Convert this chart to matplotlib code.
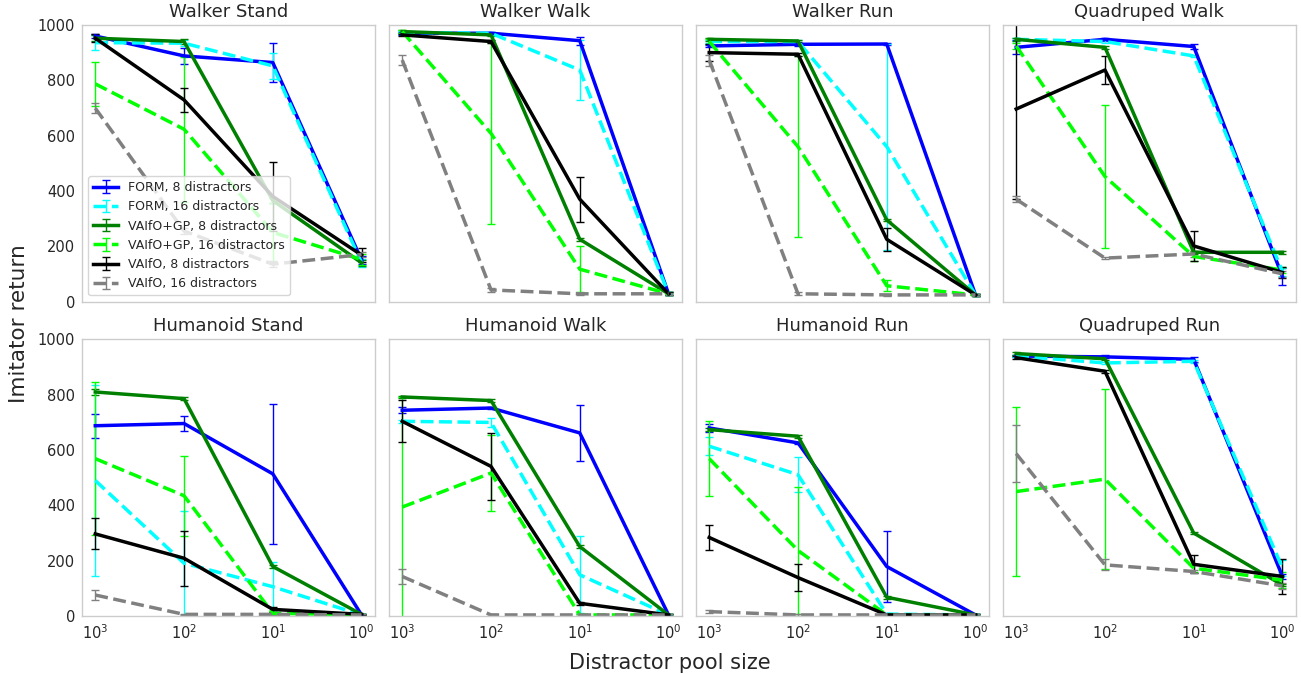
import matplotlib
matplotlib.use("Agg")
import matplotlib.pyplot as plt
import numpy as np

plt.rcParams['font.family'] = ['DejaVu Sans']
plt.rcParams['text.color'] = '.15'
plt.rcParams['axes.labelcolor'] = '.15'
plt.rcParams['xtick.color'] = '.15'
plt.rcParams['ytick.color'] = '.15'

tasks = ['Walker Stand', 'Walker Walk', 'Walker Run', 'Quadruped Walk',
         'Humanoid Stand', 'Humanoid Walk', 'Humanoid Run', 'Quadruped Run']
pool_sizes = [1000, 100, 10, 1]

labels = ['FORM, 8 distractors', 'FORM, 16 distractors',
          'VAIfO+GP, 8 distractors', 'VAIfO+GP, 16 distractors',
          'VAIfO, 8 distractors', 'VAIfO, 16 distractors']
colors = ['blue', 'cyan', 'green', 'lime', 'black', 'gray']
styles = ['-', '--', '-', '--', '-', '--']

# one row per task, one value per pool size
form8_mean = [[960, 888, 864, 150], [970, 970, 943, 28], [924, 930, 931, 24], [919, 948, 922, 90],
              [688, 696, 514, 4], [744, 752, 662, 4], [680, 626, 179, 4], [940, 937, 928, 143]]
form8_err = [[8, 30, 70, 15], [5, 5, 15, 5], [5, 5, 5, 5], [25, 5, 10, 30],
             [43, 26, 252, 3], [10, 5, 101, 3], [14, 5, 130, 3], [5, 5, 10, 10]]

form16_mean = [[936, 934, 852, 140], [973, 970, 837, 28], [940, 940, 560, 24], [948, 940, 888, 108],
               [490, 191, 106, 4], [704, 700, 149, 4], [614, 511, 7, 4], [940, 915, 921, 173]]
form16_err = [[28, 10, 46, 15], [5, 5, 108, 5], [5, 5, 372, 5], [5, 5, 5, 15],
              [347, 190, 90, 3], [5, 15, 139, 3], [33, 63, 3, 3], [5, 5, 5, 30]]

vgp8_mean = [[952, 940, 365, 140], [976, 964, 225, 28], [948, 942, 295, 24], [948, 919, 178, 178],
             [810, 786, 179, 6], [792, 779, 251, 4], [674, 650, 68, 4], [949, 930, 300, 112]]
vgp8_err = [[10, 10, 10, 10], [5, 5, 5, 5], [5, 5, 5, 5], [5, 5, 5, 5],
            [10, 5, 5, 3], [5, 5, 5, 3], [5, 5, 5, 3], [5, 5, 5, 5]]

vgp16_mean = [[787, 623, 250, 152], [976, 608, 117, 28], [940, 560, 57, 24], [924, 452, 163, 114],
              [569, 435, 10, 4], [394, 517, 4, 4], [569, 237, 4, 4], [450, 495, 173, 130]]
vgp16_err = [[80, 262, 108, 20], [5, 328, 84, 5], [10, 327, 20, 5], [10, 260, 15, 10],
             [277, 144, 5, 3], [397, 139, 3, 3], [135, 230, 3, 3], [307, 325, 15, 30]]

vaifo8_mean = [[952, 729, 380, 168], [964, 940, 370, 28], [900, 894, 225, 24], [696, 837, 201, 105],
               [297, 209, 24, 6], [704, 541, 46, 4], [284, 139, 4, 4], [934, 885, 187, 143]]
vaifo8_err = [[15, 43, 125, 25], [5, 5, 81, 5], [30, 5, 42, 5], [326, 50, 55, 20],
              [56, 100, 10, 3], [76, 121, 5, 3], [44, 48, 3, 3], [5, 5, 33, 65]]

vaifo16_mean = [[699, 255, 135, 170], [873, 42, 28, 28], [873, 28, 24, 24], [370, 157, 172, 100],
                [76, 6, 6, 4], [143, 4, 4, 4], [16, 4, 4, 4], [587, 185, 161, 109]]
vaifo16_err = [[19, 10, 10, 10], [19, 8, 3, 3], [20, 5, 3, 3], [10, 5, 10, 10],
               [18, 3, 3, 3], [27, 3, 3, 3], [5, 3, 3, 3], [104, 20, 5, 10]]

means = [form8_mean, form16_mean, vgp8_mean, vgp16_mean, vaifo8_mean, vaifo16_mean]
errs = [form8_err, form16_err, vgp8_err, vgp16_err, vaifo8_err, vaifo16_err]

fig, axes = plt.subplots(2, 4, figsize=(13.01, 6.74), dpi=100, sharex=True, sharey=True)
fig.subplots_adjust(left=0.063, right=0.996, top=0.963, bottom=0.086, wspace=0.048, hspace=0.137)

for t, ax in enumerate(axes.flat):
    for s in range(len(labels)):
        ax.errorbar(pool_sizes, means[s][t], yerr=errs[s][t], color=colors[s],
                    linestyle=styles[s], linewidth=2.5, elinewidth=1.0, capsize=3,
                    label=labels[s])
    ax.set_title(tasks[t], fontsize=13)
    ax.set_xscale('log')
    ax.set_ylim(0, 1000)
    ax.set_yticks([0, 200, 400, 600, 800, 1000])
    ax.set_xticks(pool_sizes)
    ax.tick_params(length=0, which='both', labelsize=10.5, pad=5)
    ax.minorticks_off()
    for sp in ax.spines.values():
        sp.set_color('0.8')
        sp.set_linewidth(1.0)

axes[0, 0].invert_xaxis()
axes[0, 0].legend(loc='lower left', fontsize=9, framealpha=0.8, edgecolor='0.8')

fig.text(0.515, 0.008, 'Distractor pool size', ha='center', fontsize=15)
fig.text(0.007, 0.52, 'Imitator return', va='center', rotation=90, fontsize=15.5)

fig.savefig('out.png', dpi=100)
